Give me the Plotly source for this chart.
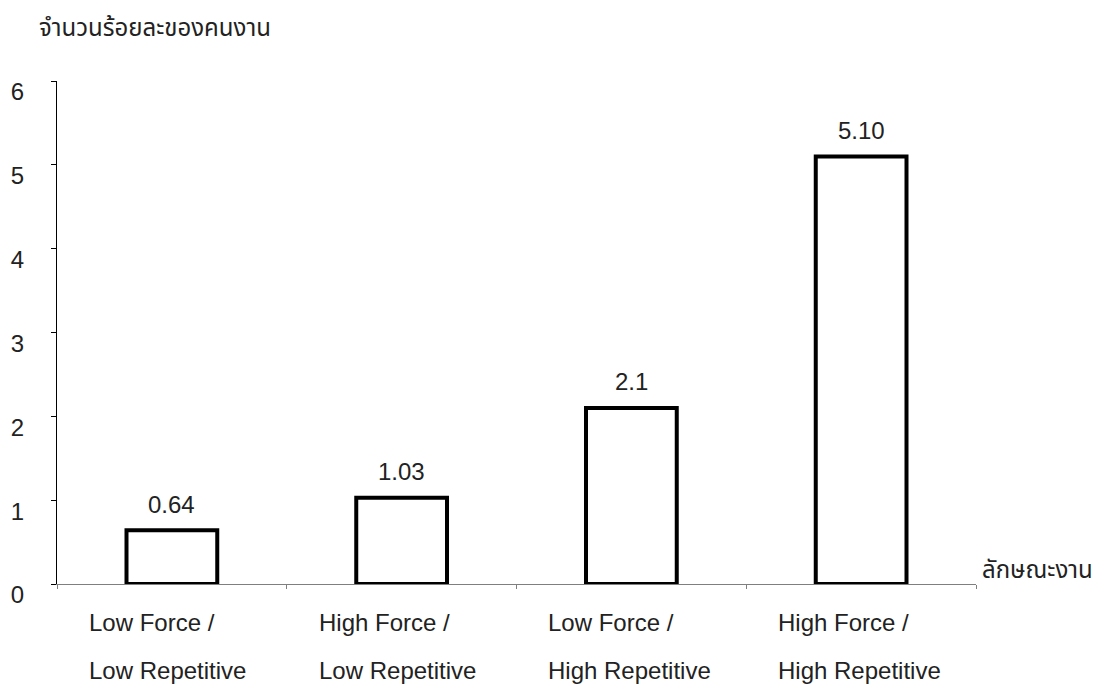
import plotly.graph_objects as go

# Share of workers by job characteristic
categories = ["LF/LR", "HF/LR", "LF/HR", "HF/HR"]
line1 = ["Low Force /", "High Force /", "Low Force /", "High Force /"]
line2 = ["Low Repetitive", "Low Repetitive", "High Repetitive", "High Repetitive"]
values = [0.64, 1.03, 2.1, 5.10]
value_labels = ["0.64", "1.03", "2.1", "5.10"]
y_ticks = [0, 1, 2, 3, 4, 5, 6]

FONT = "Liberation Sans, Arial, Noto Sans Thai, Noto Sans, sans-serif"
TXT = "#222222"
FS = 24

fig = go.Figure()
fig.add_trace(go.Bar(
    x=categories,
    y=values,
    width=0.395,
    marker=dict(color="white", line=dict(color="black", width=4)),
    cliponaxis=False,
    hoverinfo="skip",
))

annotations = []
# value labels above each bar
for c, v, t in zip(categories, values, value_labels):
    annotations.append(dict(
        x=c, y=v, xref="x", yref="y", text=t, showarrow=False,
        xanchor="center", yanchor="middle", yshift=26,
        font=dict(family=FONT, size=FS, color=TXT),
    ))
# two-line category labels under the axis
for i, (a, b) in enumerate(zip(line1, line2)):
    for txt, shift in ((a, -38), (b, -86)):
        annotations.append(dict(
            x=i - 0.37, y=0, xref="x", yref="y", text=txt, showarrow=False,
            xanchor="left", yanchor="middle", yshift=shift,
            font=dict(family=FONT, size=FS, color=TXT),
        ))
# axis titles
annotations.append(dict(
    x=-0.0218, y=1.107, xref="paper", yref="paper", text="จำนวนร้อยละของคนงาน",
    showarrow=False, xanchor="left", yanchor="middle",
    font=dict(family=FONT, size=FS, color=TXT),
))
annotations.append(dict(
    x=1.0044, y=0.028, xref="paper", yref="paper", text="ลักษณะงาน",
    showarrow=False, xanchor="left", yanchor="middle",
    font=dict(family=FONT, size=FS, color=TXT),
))

fig.update_layout(
    width=1107, height=686,
    margin=dict(l=57, r=131, t=81, b=102),
    paper_bgcolor="white", plot_bgcolor="white",
    showlegend=False,
    annotations=annotations,
    font=dict(family=FONT, size=FS, color=TXT),
)
fig.update_xaxes(
    type="category", range=[-0.5, 3.5],
    showline=True, linecolor="#7f7f7f", linewidth=1,
    ticks="outside", tickson="boundaries", ticklen=4, tickcolor="#7f7f7f", tickwidth=1,
    showticklabels=False, showgrid=False, zeroline=False,
)
fig.update_yaxes(
    range=[0, 6], tickvals=y_ticks, ticktext=[str(t) for t in y_ticks],
    showline=True, linecolor="black", linewidth=1,
    ticks="outside", ticklen=5, tickcolor="black", tickwidth=1,
    ticklabelstandoff=22, ticklabelshift=11,
    showgrid=False, zeroline=False,
    tickfont=dict(family=FONT, size=FS, color=TXT),
)

fig.write_html("out.html")
